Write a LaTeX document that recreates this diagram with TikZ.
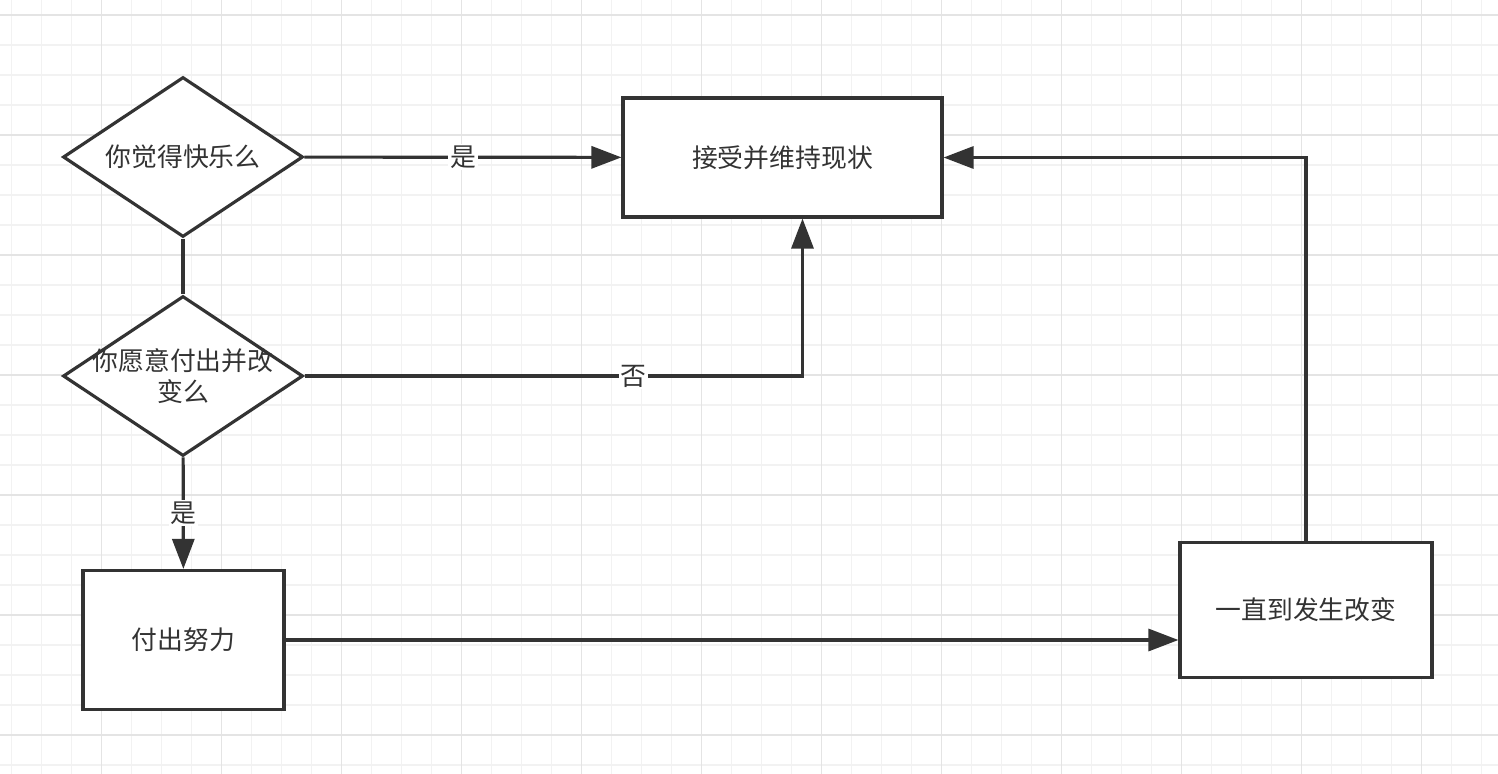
\documentclass[tikz,border=0pt]{standalone}
\usepackage{fontspec}
\setmainfont{Noto Sans CJK SC}
\usepackage{tikz}
\usetikzlibrary{shapes.geometric, arrows.meta, positioning}
\definecolor{inkgray}{RGB}{51, 51, 51}
\definecolor{gridfine}{RGB}{242, 242, 242}
\definecolor{gridmajor}{RGB}{228, 228, 228}

\begin{document}
\begin{tikzpicture}[
    x=0.02cm, y=-0.02cm,
    decision/.style={diamond, draw=inkgray, fill=white, line width=1.8pt,
                     minimum width=4.8cm, minimum height=3.2cm, inner sep=0pt},
    action/.style={rectangle, draw=inkgray, fill=white, line width=1.8pt,
                   text=inkgray, align=center},
    arrow/.style={-{Triangle[length=0.6cm, width=0.44cm]}, line width=1.8pt, color=inkgray},
    tag/.style={fill=white, inner sep=1pt, text=inkgray},
    font=\fontsize{14.7}{18}\selectfont
]

% background and grid
\fill[white] (0,0) rectangle (1498,774);
\useasboundingbox (0,0) rectangle (1498,774);
\foreach \x in {11.5,41.5,...,1498} \draw[gridfine, line width=0.6pt] (\x,0) -- (\x,774);
\foreach \y in {15,45,...,774} \draw[gridfine, line width=0.6pt] (0,\y) -- (1498,\y);
\foreach \x in {101.5,221.5,...,1498} \draw[gridmajor, line width=0.6pt] (\x,0) -- (\x,774);
\foreach \y in {15,135,...,774} \draw[gridmajor, line width=0.6pt] (0,\y) -- (1498,\y);

% decisions
\node[decision, label={[text=inkgray]center:你觉得快乐么}] (happy) at (183,157) {};
\node[decision, label={[text=inkgray, align=center]center:你愿意付出并改\\变么}] (change) at (183,376) {};

% actions
\node[action, minimum width=6.38cm, minimum height=2.38cm] (accept) at (782.5,157.5) {接受并维持现状};
\node[action, minimum width=4.02cm, minimum height=2.78cm] (effort) at (183.5,640) {付出努力};
\node[action, minimum width=5.04cm, minimum height=2.7cm] (until) at (1306,610) {一直到发生改变};

% connectors
\draw[arrow] (happy) -- node[tag] {是} (accept);
\draw[line width=1.8pt, inkgray] (happy) -- (change);
\draw[arrow] (change.east) -| node[tag, pos=0.33] {否} ([xshift=0.4cm]accept.south);
\draw[arrow] (change) -- node[tag] {是} (effort);
\draw[arrow] (effort.east) -- (effort.east -| until.west);
\draw[arrow] (until.north) |- (accept.east);

\end{tikzpicture}
\end{document}
